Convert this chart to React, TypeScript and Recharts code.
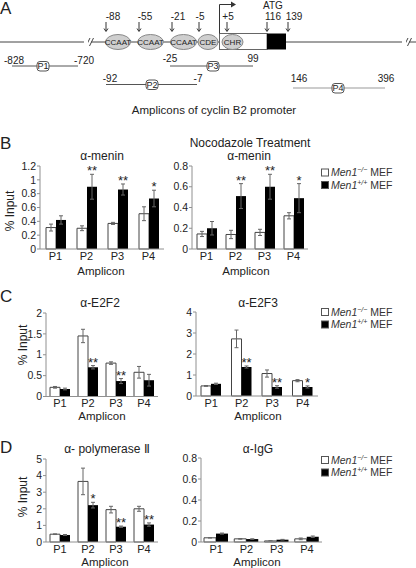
import { BarChart, Bar, XAxis, YAxis, ErrorBar, LabelList } from "recharts";

const FONT = '"Liberation Sans", Arial, sans-serif';
const INK = "#222";
const AXIS = "#909090";

const amplicons = ["P1", "P2", "P3", "P4"];

// B – alpha-menin, untreated
const meninKo = [0.31, 0.3, 0.37, 0.51];
const meninKoErr = [0.05, 0.035, 0.015, 0.1];
const meninWt = [0.42, 0.9, 0.86, 0.73];
const meninWtErr = [0.06, 0.18, 0.08, 0.12];
const meninStars = ["", "**", "**", "*"];
const meninTicks = [0, 0.2, 0.4, 0.6, 0.8, 1, 1.2];

// B – alpha-menin, nocodazole
const nocoKo = [0.145, 0.14, 0.16, 0.32];
const nocoKoErr = [0.025, 0.04, 0.03, 0.03];
const nocoWt = [0.2, 0.51, 0.6, 0.49];
const nocoWtErr = [0.065, 0.12, 0.12, 0.14];
const nocoStars = ["", "**", "**", "*"];
const nocoTicks = [0, 0.2, 0.4, 0.6, 0.8];

// C – E2F2
const e2f2Ko = [0.22, 1.45, 0.8, 0.58];
const e2f2KoErr = [0.02, 0.16, 0.03, 0.14];
const e2f2Wt = [0.18, 0.7, 0.37, 0.39];
const e2f2WtErr = [0.02, 0.04, 0.06, 0.14];
const e2f2Stars = ["", "**", "**", ""];
const e2f2Ticks = [0, 0.5, 1, 1.5, 2];

// C – E2F3
const e2f3Ko = [0.48, 2.72, 1.07, 0.73];
const e2f3KoErr = [0.02, 0.42, 0.17, 0.05];
const e2f3Wt = [0.58, 1.38, 0.43, 0.43];
const e2f3WtErr = [0.03, 0.05, 0.06, 0.05];
const e2f3Stars = ["", "**", "**", "*"];
const e2f3Ticks = [0, 1, 2, 3, 4];

// D – polymerase II
const polKo = [0.47, 3.65, 1.95, 2.0];
const polKoErr = [0.02, 0.8, 0.2, 0.15];
const polWt = [0.42, 2.22, 0.92, 1.05];
const polWtErr = [0.03, 0.17, 0.04, 0.1];
const polStars = ["", "*", "**", "**"];
const polTicks = [0, 1, 2, 3, 4, 5];

// D – IgG
const iggKo = [0.04, 0.03, 0.01, 0.03];
const iggKoErr = [0.002, 0.003, 0.002, 0.008];
const iggWt = [0.08, 0.028, 0.022, 0.05];
const iggWtErr = [0.005, 0.002, 0.003, 0.007];
const iggStars = ["", "", "", ""];
const iggTicks = [0, 0.2, 0.4, 0.6, 0.8];

type Row = { amp: string; ko: number; koErr: number; wt: number; wtErr: number; star: string };

function rowsOf(ko: number[], koErr: number[], wt: number[], wtErr: number[], stars: string[]): Row[] {
  return amplicons.map((amp, i) => ({ amp, ko: ko[i], koErr: koErr[i], wt: wt[i], wtErr: wtErr[i], star: stars[i] }));
}

const starLabel = (rows: Row[]) => (p: any) => {
  const row = rows[p.index];
  if (!row || !row.star) return null;
  const vb = p.viewBox ?? p;
  const x = Number(p.x ?? vb.x);
  const y = Number(p.y ?? vb.y);
  const w = Number(p.width ?? vb.width);
  const h = Number(p.height ?? vb.height);
  const top = y - (h / row.wt) * row.wtErr;
  return (
    <text x={x + w / 2} y={top + 1} textAnchor="middle" fontSize={13} fill={INK} fontFamily={FONT}>
      {row.star}
    </text>
  );
};

type Box = { l: number; r: number; t: number; b: number };

function Panel({ box, rows, ticks, barSize }: { box: Box; rows: Row[]; ticks: number[]; barSize: number }) {
  const YW = 40;
  const MT = 16;
  const MR = 6;
  const XH = 22;
  const width = YW + box.r - box.l + MR;
  const height = MT + box.b - box.t + XH;
  const xTick = { fill: INK, fontSize: 11, fontFamily: FONT };
  const yTick = { fill: INK, fontSize: 10.5, fontFamily: FONT };
  return (
    <div style={{ position: "absolute", left: box.l - YW, top: box.t - MT }}>
      <BarChart
        width={width}
        height={height}
        data={rows}
        margin={{ top: MT, right: MR, bottom: 0, left: 0 }}
        barGap={0}
        barSize={barSize}
      >
        <XAxis
          dataKey="amp"
          height={XH}
          interval={0}
          tickLine={false}
          stroke={AXIS}
          tickSize={3}
          tickMargin={0}
          tick={xTick}
        />
        <YAxis
          width={YW}
          domain={[0, ticks[ticks.length - 1]]}
          ticks={ticks}
          interval={0}
          stroke={AXIS}
          tickSize={3}
          tickMargin={1}
          tick={yTick}
        />
        <Bar dataKey="ko" fill="#fff" stroke="#444" strokeWidth={1} isAnimationActive={false}>
          <ErrorBar dataKey="koErr" width={2} stroke="#666" strokeWidth={1} direction="y" />
        </Bar>
        <Bar dataKey="wt" fill="#000" isAnimationActive={false}>
          <ErrorBar dataKey="wtErr" width={2} stroke="#666" strokeWidth={1} direction="y" />
          <LabelList dataKey="star" content={starLabel(rows)} />
        </Bar>
      </BarChart>
    </div>
  );
}

function Legend({ y }: { y: number }) {
  const item = (cy: number, fill: string, sup: string) => (
    <g>
      <rect x={321.5} y={cy - 3.5} width={7} height={7} fill={fill} stroke="#555" strokeWidth={1} />
      <text x={331} y={cy + 3.8} fontSize={10.5} fill="#333">
        <tspan fontStyle="italic">Men1</tspan>
        <tspan fontStyle="italic" fontSize={7} dy={-4}>{sup}</tspan>
        <tspan dy={4}> MEF</tspan>
      </text>
    </g>
  );
  return (
    <g>
      {item(y, "#fff", "−/−")}
      {item(y + 12.5, "#000", "+/+")}
    </g>
  );
}

function VText({ x, y, children }: { x: number; y: number; children: string }) {
  return (
    <text transform={`translate(${x},${y}) rotate(-90)`} textAnchor="middle" dominantBaseline="central" fontSize={12} fill={INK}>
      {children}
    </text>
  );
}

function CText({ x, y, size = 12, children }: { x: number; y: number; size?: number; children: string }) {
  return (
    <text x={x} y={y} textAnchor="middle" fontSize={size} fill={INK}>
      {children}
    </text>
  );
}

const sites = [
  { x: 106, lx: 113, t: "-88" },
  { x: 139, lx: 145, t: "-55" },
  { x: 172, lx: 178, t: "-21" },
  { x: 199, lx: 200, t: "-5" },
  { x: 227, lx: 228, t: "+5" },
  { x: 267, lx: 273, t: "116" },
  { x: 288, lx: 294, t: "139" },
];

const boxes = [
  { cx: 118, rx: 12.5, t: "CCAAT" },
  { cx: 150.5, rx: 12.8, t: "CCAAT" },
  { cx: 183.5, rx: 13, t: "CCAAT" },
  { cx: 208, rx: 10, t: "CDE" },
];

const amps = [
  { name: "P1", x1: 12, x2: 78, y: 66, bx: 43, a: "-828", ax: 14, b: "-720", bxl: 84, ty: 64, c: "#555" },
  { name: "P3", x1: 170, x2: 253, y: 66, bx: 213, a: "-25", ax: 170, b: "99", bxl: 253, ty: 62, c: "#555" },
  { name: "P2", x1: 106, x2: 197, y: 84.5, bx: 152, a: "-92", ax: 110, b: "-7", bxl: 198, ty: 82, c: "#555" },
  { name: "P4", x1: 293, x2: 385, y: 88, bx: 338, a: "146", ax: 299, b: "396", bxl: 386, ty: 82, c: "#999" },
];

function Promoter() {
  const ly = 42;
  return (
    <g>
      <line x1={0} y1={ly} x2={86} y2={ly} stroke="#444" />
      <line x1={86} y1={46} x2={90} y2={38} stroke="#444" />
      <line x1={89.5} y1={46} x2={93.5} y2={38} stroke="#444" />
      <line x1={91} y1={ly} x2={404} y2={ly} stroke="#444" />
      <line x1={404} y1={46} x2={408} y2={38} stroke="#444" />
      <line x1={407.5} y1={46} x2={411.5} y2={38} stroke="#444" />
      <line x1={409} y1={ly} x2={416} y2={ly} stroke="#444" />
      <rect x={402} y={36} width={4} height={12} fill="#fff" />
      <rect x={84} y={36} width={4} height={12} fill="#fff" />
      {boxes.map((b, i) => (
        <g key={i}>
          <ellipse cx={b.cx} cy={ly} rx={b.rx} ry={7.5} fill="#cfcfcf" stroke="#888" />
          <text x={b.cx} y={ly + 3} textAnchor="middle" fontSize={8} fill={INK}>{b.t}</text>
        </g>
      ))}
      <rect x={219.5} y={33.5} width={47.5} height={16} fill="#fff" stroke="#666" />
      <rect x={267} y={33.5} width={19} height={16} fill="#000" />
      <ellipse cx={232.5} cy={ly} rx={10.5} ry={7.5} fill="#cfcfcf" stroke="#888" />
      <text x={232.5} y={ly + 3} textAnchor="middle" fontSize={8} fill={INK}>CHR</text>
      <polyline points="219.5,33.5 219.5,4.5 233,4.5" fill="none" stroke="#333" />
      <polygon points="236,4.5 231,1.5 231,7.5" fill="#333" />
      {sites.map((s, i) => (
        <g key={i}>
          <line x1={s.x} y1={22} x2={s.x} y2={31} stroke="#333" />
          <polyline points={`${s.x - 2},${28.5} ${s.x},${31.5} ${s.x + 2},${28.5}`} fill="none" stroke="#333" />
          <CText x={s.lx} y={19.5} size={10}>{s.t}</CText>
        </g>
      ))}
      <CText x={273} y={8.5} size={10}>ATG</CText>
      {amps.map((a) => (
        <g key={a.name}>
          <line x1={a.x1} y1={a.y} x2={a.x2} y2={a.y} stroke={a.c} />
          <rect x={a.bx - 6} y={a.y - 4.5} width={12} height={9.5} rx={3} fill="#fff" stroke="#555" />
          <CText x={a.bx} y={a.y + 3.2} size={9}>{a.name}</CText>
          <CText x={a.ax} y={a.ty} size={10}>{a.a}</CText>
          <CText x={a.bxl} y={a.ty} size={10}>{a.b}</CText>
        </g>
      ))}
      <CText x={214} y={113.5} size={11.5}>Amplicons of cyclin B2 promoter</CText>
    </g>
  );
}

export default function App() {
  return (
    <div style={{ position: "absolute", left: 0, top: 0, width: 416, height: 568, background: "#fff", fontFamily: FONT, overflow: "hidden" }}>
      <Panel box={{ l: 40, r: 164, t: 166, b: 249 }} rows={rowsOf(meninKo, meninKoErr, meninWt, meninWtErr, meninStars)} ticks={meninTicks} barSize={10} />
      <Panel box={{ l: 192, r: 308, t: 166, b: 249 }} rows={rowsOf(nocoKo, nocoKoErr, nocoWt, nocoWtErr, nocoStars)} ticks={nocoTicks} barSize={10} />
      <Panel box={{ l: 46, r: 158, t: 312.5, b: 396 }} rows={rowsOf(e2f2Ko, e2f2KoErr, e2f2Wt, e2f2WtErr, e2f2Stars)} ticks={e2f2Ticks} barSize={10} />
      <Panel box={{ l: 196, r: 318, t: 312, b: 396 }} rows={rowsOf(e2f3Ko, e2f3KoErr, e2f3Wt, e2f3WtErr, e2f3Stars)} ticks={e2f3Ticks} barSize={10} />
      <Panel box={{ l: 46, r: 158, t: 459, b: 542 }} rows={rowsOf(polKo, polKoErr, polWt, polWtErr, polStars)} ticks={polTicks} barSize={10} />
      <Panel box={{ l: 201, r: 322, t: 458, b: 542 }} rows={rowsOf(iggKo, iggKoErr, iggWt, iggWtErr, iggStars)} ticks={iggTicks} barSize={12} />
      <svg width={416} height={568} style={{ position: "absolute", left: 0, top: 0, pointerEvents: "none" }} fontFamily={FONT}>
        <text x={0} y={14} fontSize={17} fill={INK}>A</text>
        <text x={0} y={149} fontSize={17} fill={INK}>B</text>
        <text x={0} y={302} fontSize={17} fill={INK}>C</text>
        <text x={0} y={453} fontSize={17} fill={INK}>D</text>
        <Promoter />

        <CText x={102} y={160}>α-menin</CText>
        <CText x={250} y={146.5}>Nocodazole Treatment</CText>
        <CText x={249} y={159.5}>α-menin</CText>
        <CText x={100} y={306.5}>α-E2F2</CText>
        <CText x={258} y={306.5}>α-E2F3</CText>
        <CText x={107} y={453}>α- polymerase Ⅱ</CText>
        <CText x={258} y={453}>α-IgG</CText>

        <CText x={101} y={274.5} size={11.5}>Amplicon</CText>
        <CText x={246} y={274.5} size={11.5}>Amplicon</CText>
        <CText x={102} y={419.5} size={11.5}>Amplicon</CText>
        <CText x={258} y={419.5} size={11.5}>Amplicon</CText>
        <CText x={105} y={566} size={11.5}>Amplicon</CText>
        <CText x={257} y={566} size={11.5}>Amplicon</CText>

        <VText x={10} y={211}>% Input</VText>
        <VText x={23} y={345}>% Input</VText>
        <VText x={23} y={497}>% Input</VText>

        <Legend y={172.5} />
        <Legend y={312} />
        <Legend y={460} />
      </svg>
    </div>
  );
}
